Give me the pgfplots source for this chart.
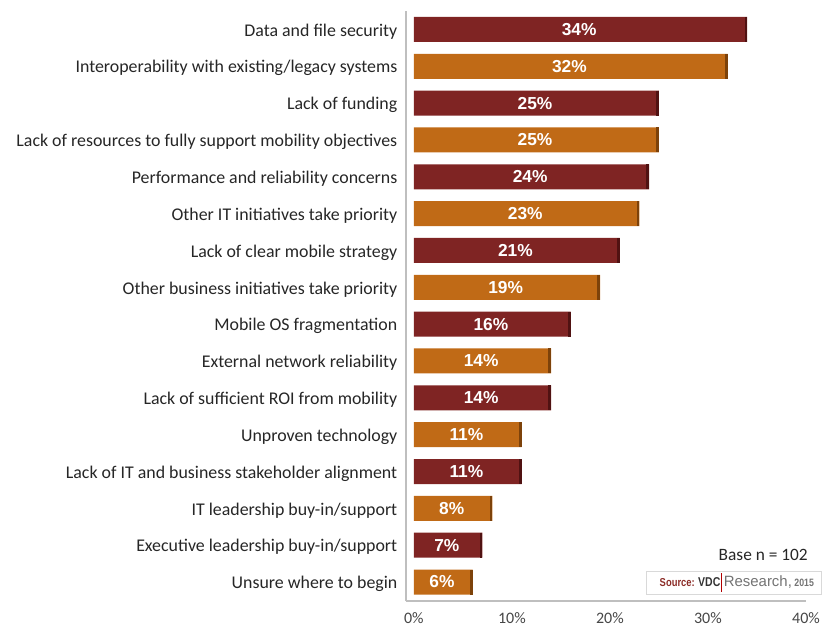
\documentclass[border=0pt]{standalone}
\usepackage{pgfplots}
\pgfplotsset{compat=1.18}
\usepackage{pgfplotstable}
\usepackage{fontspec}
\usetikzlibrary{calc}
\setmainfont{Carlito}
\newfontfamily\arialfont{Liberation Sans}
\newfontfamily\narrowfont[FakeStretch=0.82]{Liberation Sans}

\definecolor{barred}{RGB}{127,36,35}
\definecolor{barorange}{RGB}{192,106,22}
\definecolor{edgered}{RGB}{80,18,18}
\definecolor{edgeorange}{RGB}{125,66,10}
\definecolor{axisgray}{RGB}{191,191,191}
\definecolor{labelgray}{RGB}{70,70,70}
\definecolor{sourcered}{RGB}{140,45,40}

% y: 15 = top row ... 0 = bottom row
\pgfplotstableread{
v y
34 15
25 13
24 11
21 9
16 7
14 5
11 3
7 1
}\redbars
\pgfplotstableread{
v y
32 14
25 12
23 10
19 8
14 6
11 4
8 2
6 0
}\orangebars

\begin{document}
\begin{tikzpicture}
\begin{axis}[
  name=ax,
  scale only axis,
  width=300pt, height=442.5pt,
  xmin=-0.8, xmax=40, ymin=-0.515, ymax=15.5,
  axis lines*=left,
  axis line style={axisgray, line width=1.5pt},
  xbar, bar width=18.75pt, bar shift=0pt,
  xtick={0,10,20,30,40},
  xticklabel={\pgfmathprintnumber{\tick}\%},
  xticklabel style={font=\fontsize{12}{14}\selectfont, text=labelgray, yshift=-5pt},
  ytick={0,...,15},
  yticklabels={Unsure where to begin,
    Executive leadership buy-in/support,
    IT leadership buy-in/support,
    Lack of IT and business stakeholder alignment,
    Unproven technology,
    Lack of sufficient ROI from mobility,
    External network reliability,
    Mobile OS fragmentation,
    Other business initiatives take priority,
    Lack of clear mobile strategy,
    Other IT initiatives take priority,
    Performance and reliability concerns,
    Lack of resources to fully support mobility objectives,
    Lack of funding,
    Interoperability with existing/legacy systems,
    Data and file security},
  yticklabel style={font=\fontsize{13.4}{15}\selectfont, text=black!85, xshift=-3pt, yshift=-1.5pt},
  major tick length=0pt,
  /pgf/number format/assume math mode=true,
  clip=false,
  point meta=x,
  nodes near coords={\pgfmathprintnumber{\pgfplotspointmeta}\%},
  nodes near coords align={center},
  visualization depends on={\thisrow{v} \as \val},
  every node near coord/.append style={anchor=center, xshift=-0.5*\val*7.353pt,
    font=\arialfont\bfseries\fontsize{13}{15}\selectfont, text=white},
]
\addplot[fill=barred, draw=none, mark=|, mark size=9.375pt,
  mark options={line width=2pt, draw=edgered, xshift=-1pt}]
  table[x=v, y=y] {\redbars};
\addplot[fill=barorange, draw=none, mark=|, mark size=9.375pt,
  mark options={line width=2pt, draw=edgeorange, xshift=-1pt}]
  table[x=v, y=y] {\orangebars};
\end{axis}

\node[anchor=east, inner sep=0pt, font=\fontsize{13}{15}\selectfont, text=black!85]
  at ($(ax.south west)+(301.5pt,34.5pt)$) {Base n = 102};
\draw[black!15, line width=0.6pt] ($(ax.south west)+(180pt,5.25pt)$) rectangle ($(ax.south west)+(311.25pt,22.5pt)$);
\node[anchor=east, inner sep=0pt] at ($(ax.south west)+(236pt,14pt)$)
  {\narrowfont\bfseries\fontsize{8.6}{9}\selectfont\textcolor{sourcered}{Source:} \fontsize{9.6}{10}\selectfont\textcolor{black!80}{VDC}};
\draw[red!70!black, line width=0.5pt] ($(ax.south west)+(236.8pt,7pt)$) -- ($(ax.south west)+(236.8pt,21pt)$);
\node[anchor=west, inner sep=0pt] at ($(ax.south west)+(238.2pt,14pt)$)
  {\arialfont\fontsize{11.2}{12}\selectfont\textcolor{black!55}{Research,}\,\narrowfont\bfseries\fontsize{8}{9}\selectfont\textcolor{black!55}{2015}};

\pgfresetboundingbox
\path[use as bounding box] ($(ax.south west)+(-304.5pt,-18.75pt)$) rectangle ($(ax.south west)+(314.25pt,450.75pt)$);
\end{tikzpicture}
\end{document}
